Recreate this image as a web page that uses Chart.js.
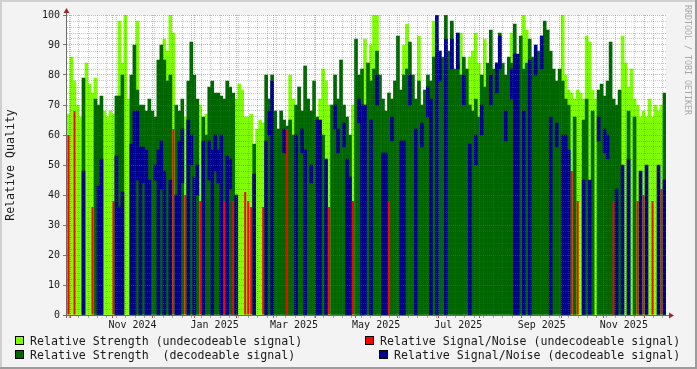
<!DOCTYPE html>
<html>
<head>
<meta charset="utf-8">
<script src="https://cdn.jsdelivr.net/npm/chart.js@4.4.0/dist/chart.umd.min.js"></script>
<style>
  html, body { margin: 0; padding: 0; background: #f3f3f3; }
  #wrap { position: relative; width: 697px; height: 369px; overflow: hidden; }
  canvas { position: absolute; left: 0; top: 0; }
  .txt { position: absolute; font-family: "DejaVu Sans Mono", monospace; font-size: 11.6px; color: #1a1a1a; white-space: pre; line-height: 14px; }
  .box { position: absolute; width: 7px; height: 7px; border: 1px solid #000; }
  #mark { position: absolute; left: 683px; top: 5px; writing-mode: vertical-rl; font-family: "DejaVu Sans Mono", monospace; font-size: 8.3px; color: #a8a8a8; }
</style>
</head>
<body>
<div id="wrap">
  <canvas id="chart" width="697" height="369"></canvas>
  <div class="box" style="left:15px;top:336px;background:#7fff00"></div>
  <div class="txt" style="left:30px;top:334px">Relative Strength (undecodeable signal)</div>
  <div class="box" style="left:365px;top:336px;background:#ff0000"></div>
  <div class="txt" style="left:380px;top:334px">Relative Signal/Noise (undecodeable signal)</div>
  <div class="box" style="left:15px;top:350px;background:#006600"></div>
  <div class="txt" style="left:30px;top:348px">Relative Strength  (decodeable signal)</div>
  <div class="box" style="left:379px;top:350px;background:#000090"></div>
  <div class="txt" style="left:394px;top:348px">Relative Signal/Noise (decodeable signal)</div>
  <div id="mark">RRDTOOL / TOBI OETIKER</div>
</div>
<script>
// time span of the graph, one bin every ~2.2 days
const startTime = Date.UTC(2024, 8, 28, 8);
const endTime = Date.UTC(2025, 11, 17, 8);

const tickLabels = ["Nov 2024", "Jan 2025", "Mar 2025", "May 2025", "Jul 2025", "Sep 2025", "Nov 2025"];
const labelMonths = [[2024, 10], [2025, 0], [2025, 2], [2025, 4], [2025, 6], [2025, 8], [2025, 10]];

// relative strength, undecodeable signal (light green)
const weakStrength = [
  67, 86, 78, 70, 66, 0, 84, 77, 74, 79,
  0, 0, 68, 66, 68, 67, 0, 98, 84, 100,
  72, 0, 0, 98, 0, 0, 0, 0, 0, 0,
  0, 0, 92, 88, 100, 94, 0, 0, 0, 66,
  0, 0, 0, 0, 70, 0, 67, 0, 0, 0,
  0, 0, 0, 0, 0, 0, 72, 77, 75, 66,
  66, 67, 0, 62, 65, 64, 0, 0, 0, 0,
  0, 0, 0, 0, 80, 72, 0, 0, 0, 0,
  0, 0, 0, 0, 72, 82, 78, 70, 0, 0,
  0, 0, 0, 0, 0, 70, 0, 0, 0, 92,
  0, 90, 100, 100, 0, 0, 0, 0, 0, 0,
  0, 0, 90, 97, 0, 0, 0, 93, 0, 0,
  0, 0, 98, 0, 0, 0, 0, 0, 0, 0,
  0, 94, 0, 0, 86, 88, 94, 84, 0, 92,
  0, 0, 0, 0, 0, 0, 0, 0, 94, 0,
  0, 0, 100, 95, 0, 0, 0, 0, 93, 0,
  0, 0, 0, 0, 0, 100, 80, 75, 74, 72,
  75, 74, 72, 93, 91, 75, 72, 0, 0, 0,
  0, 0, 0, 0, 0, 93, 84, 76, 82, 72,
  70, 66, 68, 66, 72, 66, 70, 68, 70, 0
];

// relative strength, decodeable signal (dark green)
const goodStrength = [
  0, 0, 0, 0, 0, 79, 0, 0, 0, 72,
  70, 73, 0, 0, 0, 0, 73, 73, 80, 0,
  0, 80, 90, 75, 70, 70, 68, 72, 68, 66,
  85, 90, 85, 78, 80, 0, 70, 68, 72, 0,
  78, 91, 80, 72, 0, 66, 60, 76, 78, 74,
  74, 73, 72, 78, 76, 74, 0, 0, 0, 0,
  0, 0, 57, 0, 0, 0, 80, 72, 80, 68,
  62, 68, 65, 63, 65, 60, 70, 76, 68, 83,
  72, 68, 78, 66, 0, 60, 0, 0, 70, 80,
  72, 85, 70, 66, 60, 0, 92, 80, 82, 0,
  84, 78, 82, 88, 80, 72, 68, 74, 72, 78,
  93, 75, 80, 82, 91, 80, 72, 78, 70, 75,
  80, 78, 86, 92, 84, 86, 100, 88, 98, 82,
  84, 80, 86, 82, 70, 68, 72, 66, 80, 76,
  84, 95, 82, 84, 94, 84, 80, 86, 84, 97,
  86, 93, 82, 84, 92, 86, 84, 88, 85, 98,
  95, 88, 82, 78, 82, 78, 72, 70, 0, 66,
  0, 0, 65, 72, 0, 68, 0, 75, 77, 73,
  78, 91, 72, 70, 75, 0, 0, 68, 0, 66,
  0, 0, 0, 0, 0, 0, 0, 0, 0, 74
];

// relative signal/noise, undecodeable signal (red)
const weakSnr = [
  60, 0, 68, 0, 0, 0, 0, 0, 36, 0,
  0, 0, 0, 0, 0, 38, 0, 0, 0, 0,
  0, 0, 0, 0, 0, 0, 0, 0, 0, 0,
  0, 0, 0, 0, 0, 62, 0, 0, 0, 40,
  0, 0, 0, 0, 38, 0, 0, 0, 0, 0,
  0, 0, 38, 0, 0, 38, 0, 0, 0, 41,
  38, 36, 0, 0, 0, 36, 0, 0, 0, 0,
  0, 0, 0, 62, 0, 0, 0, 0, 0, 0,
  0, 0, 0, 0, 0, 0, 0, 36, 0, 0,
  0, 0, 0, 0, 0, 38, 0, 0, 0, 0,
  0, 0, 0, 0, 0, 0, 0, 38, 0, 0,
  0, 0, 0, 0, 0, 0, 0, 0, 0, 0,
  0, 0, 0, 0, 0, 0, 0, 0, 0, 0,
  0, 0, 0, 0, 0, 0, 0, 0, 0, 0,
  0, 0, 0, 0, 0, 0, 0, 0, 0, 0,
  0, 0, 0, 0, 0, 0, 0, 0, 0, 0,
  0, 0, 0, 0, 0, 0, 0, 0, 48, 0,
  38, 0, 0, 0, 0, 0, 0, 0, 0, 0,
  0, 0, 38, 0, 0, 0, 0, 0, 0, 0,
  38, 0, 40, 0, 0, 38, 0, 0, 42, 0
];

// relative signal/noise, decodeable signal (blue): lowest and highest value in each bin
const goodSnrLow = [
  0, 0, 0, 0, 0, 0, 0, 0, 0, 0,
  0, 0, 0, 0, 0, 0, 0, 0, 0, 0,
  0, 0, 0, 45, 0, 44, 0, 0, 0, 45,
  0, 42, 0, 0, 0, 0, 0, 0, 44, 0,
  0, 50, 0, 40, 0, 0, 0, 45, 0, 48,
  44, 0, 0, 0, 42, 0, 0, 0, 0, 0,
  0, 0, 0, 0, 0, 0, 0, 60, 0, 0,
  0, 0, 54, 0, 0, 0, 0, 0, 54, 0,
  0, 44, 0, 0, 0, 0, 0, 0, 0, 62,
  54, 0, 56, 0, 0, 0, 0, 64, 0, 0,
  0, 0, 0, 70, 0, 0, 0, 0, 58, 0,
  0, 0, 0, 0, 70, 0, 0, 0, 56, 0,
  66, 0, 0, 0, 78, 0, 0, 0, 82, 0,
  82, 0, 70, 0, 0, 0, 50, 0, 60, 0,
  0, 70, 0, 74, 82, 0, 58, 0, 72, 0,
  0, 0, 0, 0, 0, 0, 80, 0, 82, 0,
  0, 0, 0, 56, 0, 0, 0, 0, 0, 0,
  0, 0, 0, 0, 0, 0, 0, 58, 0, 54,
  52, 0, 0, 0, 0, 0, 0, 0, 0, 0,
  0, 0, 0, 0, 0, 0, 0, 0, 0, 0
];
const goodSnrHigh = [
  0, 0, 0, 0, 0, 48, 0, 0, 0, 0,
  43, 52, 0, 0, 0, 0, 53, 36, 41, 0,
  0, 57, 68, 68, 56, 56, 55, 45, 0, 50,
  55, 58, 48, 0, 45, 0, 40, 58, 62, 0,
  65, 60, 46, 50, 0, 58, 0, 58, 55, 60,
  55, 60, 0, 53, 52, 0, 40, 0, 0, 0,
  0, 0, 47, 0, 0, 0, 58, 68, 78, 0,
  0, 0, 62, 0, 0, 0, 60, 0, 62, 55,
  0, 50, 0, 65, 65, 0, 52, 0, 0, 70,
  62, 0, 64, 52, 46, 0, 0, 72, 70, 70,
  0, 65, 0, 80, 0, 54, 54, 0, 66, 0,
  0, 58, 58, 0, 80, 0, 62, 0, 64, 0,
  76, 72, 0, 100, 88, 0, 92, 0, 92, 0,
  94, 0, 80, 0, 57, 0, 60, 0, 70, 0,
  0, 80, 0, 84, 93, 0, 68, 0, 82, 87,
  87, 0, 68, 0, 85, 0, 90, 0, 93, 0,
  0, 66, 0, 64, 0, 60, 60, 55, 0, 0,
  0, 0, 45, 0, 45, 0, 0, 66, 0, 62,
  60, 0, 0, 42, 0, 50, 0, 52, 0, 0,
  0, 48, 0, 50, 0, 0, 0, 50, 0, 45
];

const DAY = 86400000;
const binCount = weakStrength.length;
const binMs = (endTime - startTime) / binCount;
const binLabels = [];
for (let i = 0; i < binCount; i++) {
  binLabels.push(new Date(startTime + i * binMs).toISOString().slice(0, 10));
}

// x grid: weeks (minor), months (major), labels in the middle of the month
const xTicks = [];
for (let y = 2024, m = 8; ; m++) {
  if (m > 11) { m = 0; y++; }
  const t = Date.UTC(y, m, 1);
  if (t > endTime) break;
  if (t >= startTime) xTicks.push({ value: t, kind: "month", text: "" });
}
for (let t = Date.UTC(2024, 8, 30); t <= endTime; t += 7 * DAY) {
  if (t >= startTime && new Date(t).getUTCDate() !== 1) xTicks.push({ value: t, kind: "week", text: "" });
}
labelMonths.forEach(([y, m], i) => {
  xTicks.push({ value: Date.UTC(y, m, 1) + 15 * DAY, kind: "label", text: tickLabels[i] });
});
xTicks.sort((a, b) => a.value - b.value);

const minorGrid = "rgba(90, 90, 90, 0.33)";
const majorGrid = "rgba(205, 60, 60, 0.45)";
const none = "rgba(0, 0, 0, 0)";
const monoFont = "'DejaVu Sans Mono', monospace";

const toBars = (arr) => arr.map((v) => (v > 0 ? v : null));
const toRanges = (low, high) => high.map((h, i) => (h > 0 ? [low[i], h] : null));

const barStyle = {
  type: "bar",
  barPercentage: 1,
  categoryPercentage: 1,
  grouped: false,
  borderWidth: 0,
};

const framePlugin = {
  id: "frame",
  beforeDraw(chart) {
    const { ctx, chartArea: a } = chart;
    ctx.save();
    ctx.fillStyle = "#f3f3f3";
    ctx.fillRect(0, 0, chart.width, chart.height);
    ctx.fillStyle = "#ffffff";
    ctx.fillRect(a.left, a.top, a.right - a.left, a.bottom - a.top);
    ctx.restore();
  },
  afterDraw(chart) {
    const { ctx, chartArea: a } = chart;
    ctx.save();
    ctx.strokeStyle = "#6a6a6a";
    ctx.lineWidth = 1;
    ctx.beginPath();
    ctx.moveTo(a.left - 4, a.bottom + 0.5);
    ctx.lineTo(a.right + 4, a.bottom + 0.5);
    ctx.moveTo(a.left - 0.5, a.bottom + 3);
    ctx.lineTo(a.left - 0.5, a.top - 3);
    ctx.stroke();

    ctx.fillStyle = "#a0282a";
    ctx.beginPath();
    ctx.moveTo(a.left - 0.5, a.top - 7);
    ctx.lineTo(a.left - 3.5, a.top - 2);
    ctx.lineTo(a.left + 2.5, a.top - 2);
    ctx.closePath();
    ctx.fill();
    ctx.beginPath();
    ctx.moveTo(a.right + 8, a.bottom + 0.5);
    ctx.lineTo(a.right + 3, a.bottom - 2.5);
    ctx.lineTo(a.right + 3, a.bottom + 3.5);
    ctx.closePath();
    ctx.fill();

    // rrdtool style frame
    ctx.fillStyle = "#cfcfcf";
    ctx.fillRect(0, 0, chart.width, 2);
    ctx.fillRect(0, 0, 2, chart.height);
    ctx.fillStyle = "#9c9c9c";
    ctx.fillRect(0, chart.height - 2, chart.width, 2);
    ctx.fillRect(chart.width - 2, 0, 2, chart.height);
    ctx.restore();
  },
};

new Chart(document.getElementById("chart"), {
  data: {
    labels: binLabels,
    datasets: [
      { ...barStyle, label: "Relative Strength (undecodeable signal)", data: toBars(weakStrength), backgroundColor: "#7fff00", order: 4 },
      { ...barStyle, label: "Relative Signal/Noise (undecodeable signal)", data: toBars(weakSnr), backgroundColor: "#ff0000", order: 2, barPercentage: 0.67 },
      { ...barStyle, label: "Relative Strength  (decodeable signal)", data: toBars(goodStrength), backgroundColor: "#006600", order: 3 },
      { ...barStyle, label: "Relative Signal/Noise (decodeable signal)", data: toRanges(goodSnrLow, goodSnrHigh), backgroundColor: "#000090", order: 1 },
    ],
  },
  options: {
    responsive: false,
    devicePixelRatio: 1,
    animation: false,
    layout: { padding: { top: 15, right: 31, bottom: 38, left: 0 } },
    plugins: {
      legend: { display: false },
      tooltip: { enabled: false },
    },
    scales: {
      x: { type: "category", display: false, offset: true },
      xg: {
        type: "linear",
        position: "bottom",
        min: startTime,
        max: endTime,
        afterBuildTicks: (scale) => {
          scale.ticks = xTicks.map((t) => ({ value: t.value }));
        },
        afterFit: (scale) => {
          scale.height = 16;
        },
        grid: {
          z: 1,
          lineWidth: 1,
          tickLength: 3,
          color: (c) => {
            const k = xTicks[c.index] ? xTicks[c.index].kind : "label";
            return k === "month" ? majorGrid : k === "week" ? minorGrid : none;
          },
          tickColor: (c) => {
            const k = xTicks[c.index] ? xTicks[c.index].kind : "label";
            return k === "month" ? "#c84040" : k === "week" ? "#aaaaaa" : none;
          },
        },
        border: { display: false, dash: [1, 1] },
        ticks: {
          autoSkip: false,
          maxRotation: 0,
          minRotation: 0,
          padding: 1,
          color: "#1a1a1a",
          font: { family: monoFont, size: 10 },
          callback: (v, i) => (xTicks[i] ? xTicks[i].text : ""),
        },
      },
      y: {
        min: 0,
        max: 100,
        afterFit: (scale) => {
          scale.width = 67;
        },
        grid: {
          z: 1,
          lineWidth: 1,
          tickLength: 4,
          color: (c) => (c.tick.value % 10 === 0 ? majorGrid : minorGrid),
          tickColor: (c) => (c.tick.value % 10 === 0 ? "#777777" : none),
        },
        border: { display: false, dash: [1, 1] },
        ticks: {
          stepSize: 2,
          autoSkip: false,
          padding: 3,
          color: "#1a1a1a",
          font: { family: monoFont, size: 10 },
          callback: (v) => (v % 10 === 0 ? String(v) : ""),
        },
        title: {
          display: true,
          text: "Relative Quality",
          color: "#1a1a1a",
          font: { family: monoFont, size: 11.6 },
          padding: { top: 4.5, bottom: 0 },
        },
      },
    },
  },
  plugins: [framePlugin],
});
</script>
</body>
</html>
